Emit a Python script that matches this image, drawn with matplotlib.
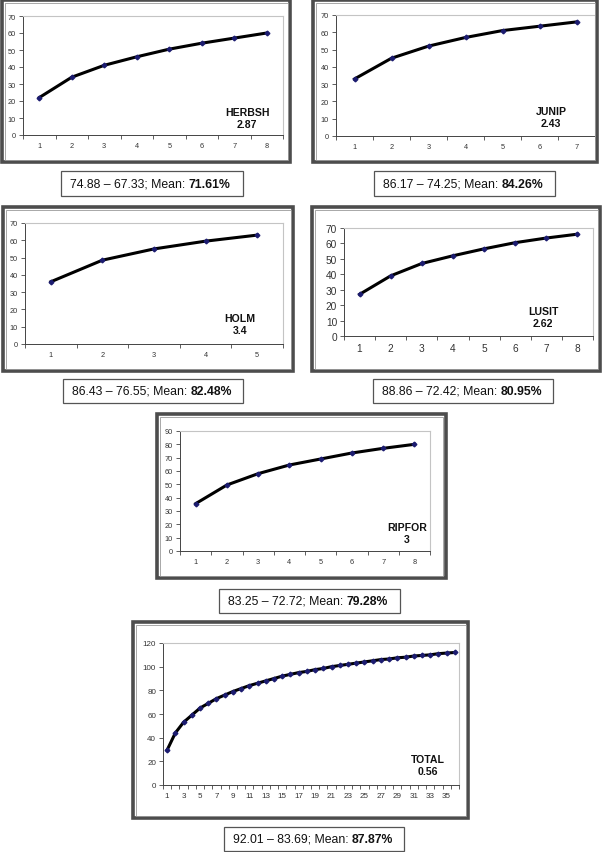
import numpy as np
import matplotlib
matplotlib.use("Agg")
import matplotlib.pyplot as plt
from matplotlib.patches import Rectangle

plt.rcParams['font.family'] = ['Liberation Sans', 'DejaVu Sans']

W, H = 602, 853

# values
herbsh = [22, 34, 41, 46, 50.5, 54, 57, 60]
junip = [33, 45, 52, 57, 61, 63.5, 66]
holm = [36, 48.5, 55, 59.5, 63]
lusit = [27, 39, 47, 52, 56.5, 60.5, 63.5, 66]
ripfor = [35.5, 49.5, 58, 64.5, 69, 73.5, 77, 80]
total = [29.5, 44, 53, 59, 65, 69, 73, 76, 79, 81.5, 84, 86, 88, 90, 92,
         93.5, 95, 96, 97.5, 98.5, 100, 101, 102, 103, 104, 105, 106, 106.5,
         107.5, 108, 109, 109.5, 110, 111, 111.5, 112]

names = ["HERBSH", "JUNIP", "HOLM", "LUSIT", "RIPFOR", "TOTAL"]
scores = ["2.87", "2.43", "3.4", "2.62", "3", "0.56"]
ranges = ["74.88 – 67.33; Mean: ", "86.17 – 74.25; Mean: ", "86.43 – 76.55; Mean: ",
          "88.86 – 72.42; Mean: ", "83.25 – 72.72; Mean: ", "92.01 – 83.69; Mean: "]
means = ["71.61%", "84.26%", "82.48%", "80.95%", "79.28%", "87.87%"]
ymax = [70, 70, 70, 70, 90, 120]
ystep = [10, 10, 10, 10, 10, 20]
series = [herbsh, junip, holm, lusit, ripfor, total]

# layout in pixels: (left, top, right, bottom)
axes_px = [(23, 17, 283, 136), (336, 16, 595, 137), (25, 224, 283, 345),
           (344, 229, 593, 337), (180, 432, 430, 552), (163, 644, 459, 786)]
frame_px = [(2, 1, 290, 163), (313, 1, 597, 163), (3, 208, 293, 372),
            (312, 208, 600, 372), (157, 415, 446, 579), (133, 623, 468, 819)]
cap_px = [(61, 172, 243, 197), (374, 172, 555, 197), (63, 380, 243, 404),
          (373, 380, 553, 404), (219, 590, 400, 614), (224, 828, 404, 852)]
lab_px = [(247, 119), (551, 118), (240, 325), (543, 318), (407, 534), (428, 766)]
tick_fs = [5.3, 5.3, 5.3, 7.3, 5.3, 5.8]


def fx(x):
    return x / W


def fy(y):
    return 1 - y / H


fig = plt.figure(figsize=(W / 100, H / 100), dpi=100)

for i in range(6):
    # outer frame
    l, t, r, b = frame_px[i]
    fig.patches.append(Rectangle((fx(l), fy(b)), fx(r - l), (b - t) / H,
                                 transform=fig.transFigure, fill=False,
                                 edgecolor='#4d4d4d', linewidth=2.6))
    fig.patches.append(Rectangle((fx(l + 2.5), fy(b - 2.5)), fx(r - l - 5), (b - t - 5) / H,
                                 transform=fig.transFigure, fill=False,
                                 edgecolor='#9a9a9a', linewidth=0.6))

    l, t, r, b = axes_px[i]
    ax = fig.add_axes([fx(l), fy(b), fx(r - l), (b - t) / H])
    vals = series[i]
    n = len(vals)
    x = np.arange(1, n + 1)
    ax.plot(x, vals, color='black', lw=2.2, zorder=2, solid_joinstyle='round')
    ax.plot(x, vals, ls='none', marker='D', ms=2.4, color='#1c1c70', zorder=3)
    ax.set_xlim(0.5, n + 0.5)
    ax.set_ylim(0, ymax[i])
    ax.set_yticks(np.arange(0, ymax[i] + 1, ystep[i]))
    if n > 20:
        ax.set_xticks(x[::2])
    else:
        ax.set_xticks(x)
    ax.set_xticks(np.arange(0.5, n + 1, 1), minor=True)
    ax.tick_params(axis='x', which='major', length=0, pad=5, labelsize=tick_fs[i], labelcolor='#333333')
    ax.tick_params(axis='x', which='minor', length=3, width=0.6, color='#444444')
    ax.tick_params(axis='y', length=3, width=0.6, color='#444444', labelsize=tick_fs[i],
                   labelcolor='#333333', pad=2)
    for s in ['top', 'right']:
        ax.spines[s].set_color('#c4c4c4')
        ax.spines[s].set_linewidth(0.8)
    for s in ['left', 'bottom']:
        ax.spines[s].set_color('#444444')
        ax.spines[s].set_linewidth(0.7)

    lx, ly = lab_px[i]
    fig.text(fx(lx), fy(ly), names[i] + "\n" + scores[i], ha='center', va='center',
             fontsize=7.6, fontweight='bold', linespacing=1.25, color='#111111')

    # caption box
    l, t, r, b = cap_px[i]
    fig.patches.append(Rectangle((fx(l), fy(b)), fx(r - l), (b - t) / H,
                                 transform=fig.transFigure, fill=False,
                                 edgecolor='#555555', linewidth=0.9))
    t1 = fig.text(fx(l + 9), fy((t + b) / 2), ranges[i], ha='left', va='center',
                  fontsize=8.8, color='#111111')
    ax.annotate(means[i], xy=(1, 0), xycoords=t1, ha='left', va='bottom',
                fontsize=8.8, fontweight='bold', color='#111111', annotation_clip=False)

fig.savefig("out.png", dpi=100)
